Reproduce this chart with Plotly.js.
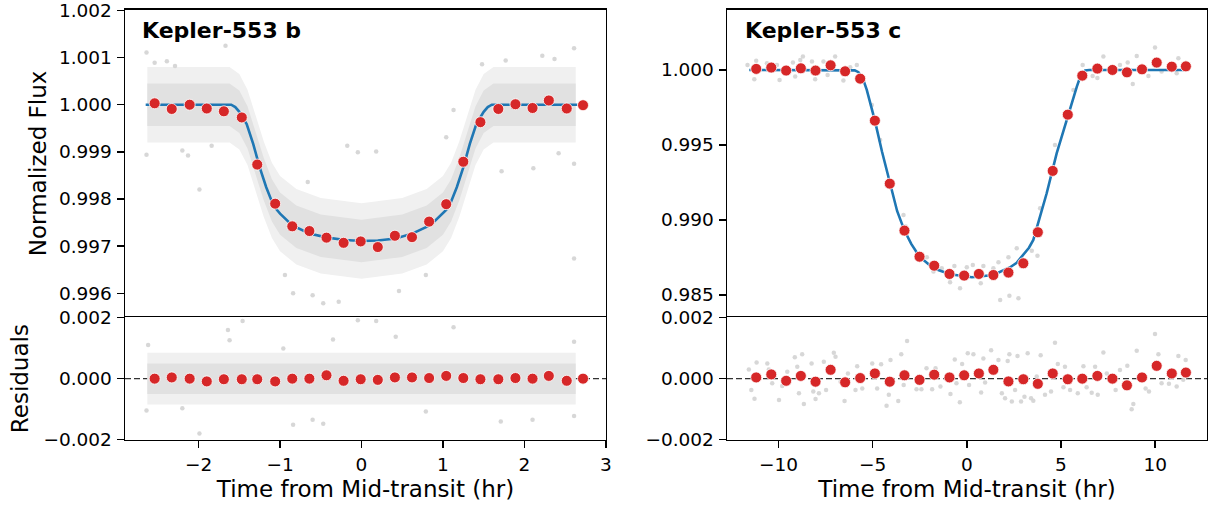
<!DOCTYPE html>
<html>
<head>
<meta charset="utf-8">
<script src="https://cdn.plot.ly/plotly-3.0.1.min.js"></script>
<style>html,body{margin:0;padding:0;background:#fff;}#chart{width:1213px;height:505px;}</style>
</head>
<body>
<div id="chart"></div>
<script>
// ---------------- Kepler-553 b ----------------
const bBinT = [-2.54, -2.33, -2.11, -1.90, -1.69, -1.47, -1.28, -1.06, -0.85, -0.64, -0.43, -0.22, -0.01, 0.20, 0.41, 0.62, 0.83, 1.04, 1.25, 1.46, 1.68, 1.89, 2.10, 2.30, 2.52, 2.72];
const bBinF = [1.00003, 0.99991, 1.00000, 0.99992, 0.99986, 0.99973, 0.99873, 0.99790, 0.99742, 0.99732, 0.99718, 0.99707, 0.99710, 0.99698, 0.99722, 0.99719, 0.99752, 0.99789, 0.99879, 0.99963, 0.99991, 1.00001, 0.99993, 1.00009, 0.99992, 0.99999];
const bBinR = [0.00000, 0.00004, 0.00000, -0.00009, -0.00002, -0.00002, -0.00002, -0.00009, 0.00000, 0.00000, 0.00011, -0.00007, -0.00002, -0.00004, 0.00004, 0.00004, 0.00002, 0.00009, 0.00002, -0.00002, -0.00002, 0.00002, 0.00000, 0.00009, -0.00007, 0.00000];

const bModelT = [-2.65, -1.60, -1.55, -1.50, -1.45, -1.41, -1.33, -1.25, -1.17, -1.09, -1.04, -1.00, -0.85, -0.64, -0.42, -0.20, 0.00, 0.20, 0.42, 0.63, 0.85, 1.00, 1.04, 1.09, 1.17, 1.25, 1.33, 1.41, 1.45, 1.50, 1.55, 1.60, 2.65];
const bModelF = [1.00000, 1.00000, 0.99995, 0.99985, 0.99970, 0.99959, 0.99917, 0.99867, 0.99825, 0.99790, 0.99777, 0.99769, 0.99744, 0.99727, 0.99718, 0.99713, 0.99711, 0.99712, 0.99716, 0.99727, 0.99745, 0.99769, 0.99777, 0.99790, 0.99825, 0.99867, 0.99917, 0.99959, 0.99970, 0.99985, 0.99995, 1.00000, 1.00000];

// envelope of the dense cloud of unbinned points (outer / inner)
const bBandT     = [-2.63, -1.62, -1.50, -1.40, -1.30, -1.20, -1.10, -1.00, -0.80, -0.50, 0.00, 0.50, 0.80, 1.00, 1.10, 1.20, 1.30, 1.40, 1.50, 1.62, 2.63];
const bOuterHi   = [1.00080, 1.00080, 1.00065, 1.00032, 0.99977, 0.99922, 0.99877, 0.99849, 0.99821, 0.99802, 0.99791, 0.99802, 0.99821, 0.99849, 0.99877, 0.99922, 0.99977, 1.00032, 1.00065, 1.00080, 1.00080];
const bOuterLo   = [0.99920, 0.99920, 0.99905, 0.99872, 0.99817, 0.99762, 0.99717, 0.99689, 0.99661, 0.99642, 0.99631, 0.99642, 0.99661, 0.99689, 0.99717, 0.99762, 0.99817, 0.99872, 0.99905, 0.99920, 0.99920];
const bInnerHi   = [1.00045, 1.00045, 1.00030, 0.99997, 0.99942, 0.99887, 0.99842, 0.99814, 0.99786, 0.99767, 0.99756, 0.99767, 0.99786, 0.99814, 0.99842, 0.99887, 0.99942, 0.99997, 1.00030, 1.00045, 1.00045];
const bInnerLo   = [0.99955, 0.99955, 0.99940, 0.99907, 0.99852, 0.99797, 0.99752, 0.99724, 0.99696, 0.99677, 0.99666, 0.99677, 0.99696, 0.99724, 0.99752, 0.99797, 0.99852, 0.99907, 0.99940, 0.99955, 0.99955];
const bResBandT  = [-2.63, -1.30, 0.00, 1.30, 2.63];
const bResOutHi  = [0.00085, 0.00085, 0.00085, 0.00085, 0.00085];
const bResOutLo  = [-0.00085, -0.00085, -0.00085, -0.00085, -0.00085];
const bResInHi   = [0.00050, 0.00050, 0.00050, 0.00050, 0.00050];
const bResInLo   = [-0.00050, -0.00050, -0.00050, -0.00050, -0.00050];

// scattered unbinned points outside the dense cloud
const bOutT = [-2.64, -2.54, -2.39, -2.29, -1.67, -2.64, -2.20, -1.99, -1.84, -2.13, -0.66, -0.175, -0.045, 0.18, 1.13, 1.04, 1.48, 1.77, 2.22, 2.61, 2.37, 1.72, 2.11, 2.42, 2.61, -0.60, -0.47, -0.28, 0.46, 2.61, 0.79, -0.84, -0.94];
const bOutF = [1.00111, 1.00089, 1.00092, 1.00082, 1.00125, 0.99894, 0.99903, 0.99820, 0.99913, 0.99892, 0.99836, 0.99913, 0.99899, 0.99901, 0.99989, 0.99931, 1.00086, 1.00094, 1.00104, 1.00120, 1.00097, 0.99859, 0.99865, 0.99897, 0.99875, 0.99596, 0.99579, 0.99582, 0.99605, 0.99674, 0.99639, 0.99600, 0.99639];
const bResOutT = [-1.46, -1.64, -2.62, -2.64, -1.99, -2.20, -0.84, -0.60, -1.62, -0.96, -0.045, 0.18, 1.13, -0.35, 0.42, 0.79, 1.71, 2.10, 2.61, 2.61, -0.47];
const bResOutR = [0.00189, 0.00159, 0.00110, -0.00104, -0.00180, -0.00097, -0.00151, -0.00135, 0.00126, 0.00099, 0.00191, 0.00189, 0.00168, 0.00128, 0.00137, -0.00108, -0.00140, -0.00135, -0.00122, 0.00121, -0.00148];

// ---------------- Kepler-553 c ----------------
const cBinT = [-11.18, -10.38, -9.59, -8.81, -8.03, -7.23, -6.46, -5.66, -4.88, -4.09, -3.31, -2.51, -1.73, -0.92, -0.14, 0.64, 1.41, 2.21, 3.00, 3.77, 4.56, 5.36, 6.13, 6.93, 7.73, 8.50, 9.30, 10.08, 10.88, 11.63];
const cBinF = [1.00007, 1.00016, 0.99996, 1.00011, 0.99996, 1.00031, 0.99991, 0.99942, 0.99662, 0.99242, 0.98929, 0.98755, 0.98695, 0.98640, 0.98629, 0.98640, 0.98633, 0.98649, 0.98711, 0.98918, 0.99327, 0.99702, 0.99962, 1.00009, 1.00000, 0.99984, 1.00004, 1.00049, 1.00022, 1.00024];
const cBinR = [0.00004, 0.00014, -0.00007, 0.00009, -0.00010, 0.00029, -0.00012, 0.00002, 0.00017, -0.00010, 0.00011, -0.00004, 0.00013, 0.00004, 0.00011, 0.00017, 0.00029, -0.00009, -0.00002, -0.00017, 0.00017, -0.00002, 0.00000, 0.00009, 0.00000, -0.00022, 0.00004, 0.00042, 0.00017, 0.00020];

const cModelT = [-11.55, -6.10, -5.95, -5.75, -5.49, -5.31, -4.88, -4.50, -4.07, -3.70, -3.31, -2.95, -2.51, -1.77, -0.89, 0.27, 1.41, 2.30, 2.65, 3.00, 3.30, 3.53, 3.89, 4.24, 4.77, 5.31, 5.60, 5.84, 6.05, 6.28, 6.50, 11.67];
const cModelF = [1.00000, 1.00000, 0.99997, 0.99985, 0.99933, 0.99867, 0.99662, 0.99455, 0.99244, 0.99060, 0.98929, 0.98840, 0.98755, 0.98678, 0.98638, 0.98618, 0.98633, 0.98685, 0.98715, 0.98767, 0.98815, 0.98867, 0.99022, 0.99178, 0.99444, 0.99667, 0.99800, 0.99889, 0.99965, 0.99997, 1.00000, 1.00000];

const cPtT = [-11.64, -11.18, -11.28, -10.61, -10.08, -9.94, -9.23, -9.11, -8.84, -8.70, -8.22, -8.05, -7.61, -7.39, -6.99, -6.55, -6.19, -5.84, -5.04, -4.60, -3.36, -3.24, -2.12, -1.77, -1.33, -0.89, -0.66, -0.36, 0.00, 0.32, 0.74, 0.88, 1.41, 1.68, 1.77, 2.21, 2.26, 2.65, 2.74, 3.45, 3.75, 3.89, 4.68, 5.66, 6.15, 6.68, 6.93, 7.25, 8.13, 8.54, 8.81, 9.02, 9.64, 9.99, 10.34, 11.23, 11.14];
const cPtF = [1.00033, 1.00062, 0.99938, 1.00044, 1.00033, 0.99933, 1.00049, 0.99956, 1.00067, 1.00089, 1.00056, 0.99938, 1.00056, 0.99967, 1.00089, 0.99929, 1.00018, 1.00033, 0.99767, 0.99533, 0.99033, 0.98956, 0.98751, 0.98656, 0.98678, 0.98584, 0.98693, 0.98545, 0.98684, 0.98700, 0.98578, 0.98693, 0.98678, 0.98718, 0.98467, 0.98751, 0.98495, 0.98811, 0.98478, 0.98795, 0.98762, 0.99078, 0.99500, 0.99867, 1.00033, 0.99960, 0.99947, 1.00089, 1.00033, 1.00049, 0.99907, 1.00093, 0.99960, 1.00149, 0.99989, 1.00078, 0.99978];
const cResPtT = [-11.57, -11.16, -11.44, -11.27, -10.59, -10.51, -10.33, -9.97, -9.80, -9.53, -9.13, -8.74, -9.00, -8.91, -8.65, -8.24, -8.15, -8.03, -7.85, -7.59, -7.47, -7.06, -6.97, -6.70, -6.49, -6.31, -5.91, -5.82, -5.55, -5.02, -4.76, -4.55, -4.26, -4.05, -4.14, -3.64, -3.48, -3.17, -3.35, -2.67, -2.41, -2.14, -1.84, -1.66, -1.40, -0.87, -0.64, -0.55, -0.37, -0.25, 0.05, 0.35, 0.12, 0.76, 0.88, 0.97, 1.29, 1.68, 1.86, 2.03, 2.17, 2.26, 2.39, 2.56, 2.69, 2.88, 3.06, 3.23, 3.41, 3.53, 3.71, 3.92, 4.15, 4.47, 4.68, 4.83, 5.13, 5.21, 5.48, 5.89, 6.19, 6.36, 6.63, 6.81, 6.95, 7.25, 7.43, 7.90, 8.13, 8.52, 8.75, 8.84, 9.02, 9.49, 9.67, 9.99, 10.17, 10.34, 10.73, 11.14, 11.23, 11.49, 11.62];
const cResPtR = [0.00030, 0.00053, -0.00037, -0.00066, 0.00050, 0.00030, -0.00015, -0.00070, -0.00024, 0.00023, 0.00070, 0.00080, 0.00039, -0.00048, -0.00083, 0.00050, -0.00042, -0.00067, -0.00048, 0.00055, -0.00037, 0.00085, 0.00072, -0.00010, -0.00073, 0.00017, -0.00037, 0.00041, -0.00032, 0.00050, -0.00032, 0.00047, -0.00089, 0.00061, -0.00053, -0.00073, 0.00080, 0.00123, -0.00021, -0.00035, -0.00035, 0.00034, -0.00035, 0.00034, -0.00026, -0.00050, 0.00063, -0.00015, -0.00077, 0.00048, 0.00083, 0.00080, -0.00021, -0.00045, 0.00066, -0.00013, 0.00093, 0.00061, -0.00048, -0.00064, 0.00058, 0.00080, -0.00075, -0.00037, 0.00074, -0.00075, -0.00059, 0.00083, -0.00064, -0.00072, 0.00007, 0.00077, -0.00053, -0.00042, 0.00118, 0.00048, -0.00028, 0.00039, -0.00037, -0.00048, 0.00041, -0.00028, -0.00046, 0.00039, -0.00053, 0.00086, 0.00017, -0.00037, 0.00028, 0.00042, -0.00100, -0.00083, 0.00091, -0.00032, -0.00042, 0.00146, 0.00080, -0.00015, -0.00017, -0.00026, 0.00074, -0.00004, 0.00061];

const panelTitles = ['Kepler-553 b', 'Kepler-553 c'];
const xTitle = 'Time from Mid-transit (hr)';
const yTitleTop = 'Normalized Flux';
const yTitleRes = 'Residuals';

// ---------------- styling ----------------
const RED = '#d62728', BLUE = '#1f77b4', GRAY = '#d3d3d3';
const FONT = 'DejaVu Sans, Arial, sans-serif';
const skip = {hoverinfo: 'skip', showlegend: false};

function band(t, lo, hi, color, xa, ya) {
  return [
    Object.assign({x: t, y: lo, xaxis: xa, yaxis: ya, mode: 'lines', line: {width: 0, color: color}, type: 'scatter'}, skip),
    Object.assign({x: t, y: hi, xaxis: xa, yaxis: ya, mode: 'lines', line: {width: 0, color: color}, fill: 'tonexty', fillcolor: color, type: 'scatter'}, skip)
  ];
}
function pts(t, v, xa, ya) {
  return Object.assign({x: t, y: v, xaxis: xa, yaxis: ya, mode: 'markers', type: 'scatter',
    marker: {size: 4.5, color: GRAY, opacity: 0.9}}, skip);
}
function model(t, v, xa, ya) {
  return Object.assign({x: t, y: v, xaxis: xa, yaxis: ya, mode: 'lines', type: 'scatter',
    line: {color: BLUE, width: 2.6}}, skip);
}
function bins(t, v, xa, ya) {
  return Object.assign({x: t, y: v, xaxis: xa, yaxis: ya, mode: 'markers', type: 'scatter',
    marker: {size: 11, color: RED, line: {color: '#ffffff', width: 0.8}}}, skip);
}

const OUTER = '#f0f0f0', INNER = '#e1e1e1';
const data = [].concat(
  band(bBandT, bOuterLo, bOuterHi, OUTER, 'x', 'y'),
  band(bBandT, bInnerLo, bInnerHi, INNER, 'x', 'y'),
  [pts(bOutT, bOutF, 'x', 'y'), model(bModelT, bModelF, 'x', 'y'), bins(bBinT, bBinF, 'x', 'y')],
  band(bResBandT, bResOutLo, bResOutHi, OUTER, 'x2', 'y2'),
  band(bResBandT, bResInLo, bResInHi, INNER, 'x2', 'y2'),
  [pts(bResOutT, bResOutR, 'x2', 'y2'), bins(bBinT, bBinR, 'x2', 'y2')],
  [pts(cPtT, cPtF, 'x3', 'y3'), model(cModelT, cModelF, 'x3', 'y3'), bins(cBinT, cBinF, 'x3', 'y3')],
  [pts(cResPtT, cResPtR, 'x4', 'y4'), bins(cBinT, cBinR, 'x4', 'y4')]
);

const W = 1213, H = 505;
const dxB = [125 / W, 606 / W], dxC = [727 / W, 1207 / W];
const dyTop = [1 - 317.3 / H, 1 - 9.5 / H], dyRes = [1 - 440 / H, 1 - 317.3 / H];
const tickFont = {family: FONT, size: 18.5, color: '#000'};
const titleFont = {family: FONT, size: 23, color: '#000'};
const axBase = {showline: true, mirror: true, linecolor: '#000', linewidth: 1.4, showgrid: false, zeroline: false,
  ticks: 'outside', ticklen: 7, tickwidth: 1.4, tickcolor: '#000', tickfont: tickFont, ticklabelstandoff: 1,
  ticklabeloverflow: 'allow', fixedrange: true};
function ax(o) { return Object.assign({}, axBase, o); }
// upper panels: only the top spine on their x axis (the shared edge is drawn by the residual axis)
const topX = {side: 'top', mirror: false, ticks: '', showticklabels: false};

const layout = {
  width: W, height: H, margin: {l: 0, r: 0, t: 0, b: 0}, paper_bgcolor: '#fff', plot_bgcolor: '#fff',
  showlegend: false, font: {family: FONT, color: '#000'},
  xaxis: ax(Object.assign({domain: dxB, anchor: 'y', matches: 'x2', range: [-2.904, 3.002]}, topX)),
  yaxis: ax({domain: dyTop, anchor: 'x', range: [0.99549, 1.00202], tick0: 0.996, dtick: 0.001, tickformat: '.3f',
    title: {text: yTitleTop, font: titleFont, standoff: 6}}),
  xaxis2: ax({domain: dxB, anchor: 'y2', range: [-2.904, 3.002], tick0: 0, dtick: 1, ticklabelstandoff: 0,
    title: {text: xTitle, font: titleFont, standoff: 7}}),
  yaxis2: ax({domain: dyRes, anchor: 'x2', range: [-0.00201, 0.00201], tick0: 0, dtick: 0.002, tickformat: '.3f',
    title: {text: yTitleRes, font: titleFont, standoff: 8}}),
  xaxis3: ax(Object.assign({domain: dxC, anchor: 'y3', matches: 'x4', range: [-12.73, 12.75]}, topX)),
  yaxis3: ax({domain: dyTop, anchor: 'x3', range: [0.98351, 1.00403], tick0: 0.985, dtick: 0.005, tickformat: '.3f'}),
  xaxis4: ax({domain: dxC, anchor: 'y4', range: [-12.73, 12.75], tick0: 0, dtick: 5, ticklabelstandoff: 0,
    title: {text: xTitle, font: titleFont, standoff: 7}}),
  yaxis4: ax({domain: dyRes, anchor: 'x4', range: [-0.00201, 0.00201], tick0: 0, dtick: 0.002, tickformat: '.3f'}),
  shapes: [
    {type: 'line', xref: 'x2 domain', yref: 'y2', x0: 0, x1: 1, y0: 0, y1: 0, line: {color: '#333', width: 1.4, dash: '6px,3px'}, layer: 'below'},
    {type: 'line', xref: 'x4 domain', yref: 'y4', x0: 0, x1: 1, y0: 0, y1: 0, line: {color: '#333', width: 1.4, dash: '6px,3px'}, layer: 'below'}
  ],
  annotations: [
    {text: '<b>' + panelTitles[0] + '</b>', xref: 'x domain', yref: 'y domain', x: 0.031, y: 0.933, xanchor: 'left', yanchor: 'middle', showarrow: false, font: {family: FONT, size: 22, color: '#000'}},
    {text: '<b>' + panelTitles[1] + '</b>', xref: 'x3 domain', yref: 'y3 domain', x: 0.033, y: 0.933, xanchor: 'left', yanchor: 'middle', showarrow: false, font: {family: FONT, size: 22, color: '#000'}}
  ]
};

Plotly.newPlot('chart', data, layout, {staticPlot: true, displayModeBar: false});
</script>
</body>
</html>
